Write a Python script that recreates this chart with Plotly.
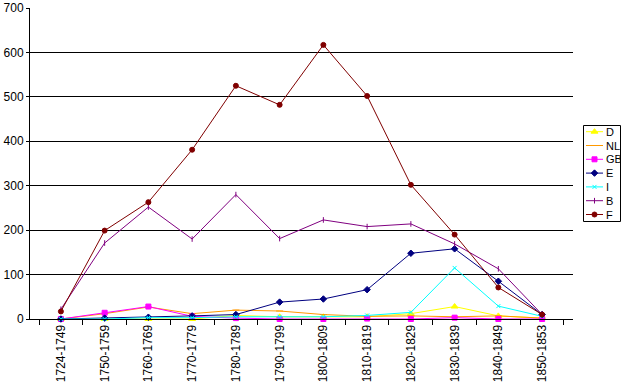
import plotly.graph_objects as go

periods = ["1724-1749", "1750-1759", "1760-1769", "1770-1779", "1780-1789", "1790-1799",
           "1800-1809", "1810-1819", "1820-1829", "1830-1839", "1840-1849", "1850-1853"]

D = [0, 0, 0, 0, 8, 5, 5, 5, 12, 28, 7, 2]
NL = [0, 12, 27, 12, 20, 18, 10, 6, 7, 5, 7, 2]
GB = [0, 14, 28, 6, 2, 0, 0, 1, 0, 3, 0, 0]
E = [0, 2, 4, 7, 10, 38, 45, 66, 148, 158, 85, 10]
I = [0, 0, 3, 3, 5, 5, 5, 8, 15, 115, 29, 6]
B = [22, 171, 252, 180, 280, 181, 223, 208, 214, 169, 113, 10]
F = [17, 199, 263, 381, 525, 482, 617, 502, 302, 190, 71, 10]

series = [
    ("D", D, "#FFFF00", "triangle-up", 6),
    ("NL", NL, "#FF9900", "line-ew", 5),
    ("GB", GB, "#FF00FF", "square", 5),
    ("E", E, "#000080", "diamond", 5),
    ("I", I, "#00FFFF", "x-thin", 4),
    ("B", B, "#800080", "line-ns", 4),
    ("F", F, "#800000", "circle", 5),
]

W, H = 621, 391
L, R, T, Bm = 30, 0, 8, 72
pw = W - L - R
main_right = 573
leg_x0, leg_x1 = 583, 621
leg_top, leg_bot = 125, 222
ph = H - T - Bm

fig = go.Figure()
for name, vals, col, sym, sz in series:
    fig.add_trace(go.Scatter(
        x=periods, y=vals, name=name, mode="lines+markers",
        line=dict(color=col, width=1),
        marker=dict(color=col, symbol=sym, size=sz, line=dict(color=col, width=1)),
        showlegend=False, cliponaxis=False,
    ))

# custom compact legend in its own small axes
for i, (name, vals, col, sym, sz) in enumerate(series):
    yy = 6.7 + 13.8 * i
    fig.add_trace(go.Scatter(
        x=[586, 603], y=[yy, yy], mode="lines", line=dict(color=col, width=1),
        xaxis="x2", yaxis="y2", showlegend=False, hoverinfo="skip", cliponaxis=False,
    ))
    fig.add_trace(go.Scatter(
        x=[594.5], y=[yy], mode="markers",
        marker=dict(color=col, symbol=sym, size=sz, line=dict(color=col, width=1)),
        xaxis="x2", yaxis="y2", showlegend=False, hoverinfo="skip", cliponaxis=False,
    ))
    fig.add_annotation(x=603.5, y=yy, xref="x2", yref="y2", text=name, showarrow=False,
                       xanchor="left", yanchor="middle", font=dict(size=11, color="black"))

fig.add_shape(type="rect", xref="x2", yref="y2", x0=leg_x0 + 0.5, x1=620.5,
              y0=0.5, y1=96.5, line=dict(color="black", width=1), layer="below")

fig.update_layout(
    width=W, height=H,
    margin=dict(l=L, r=R, t=T, b=Bm, autoexpand=False),
    paper_bgcolor="white", plot_bgcolor="white",
    font=dict(family="Liberation Sans, Arial, sans-serif", size=12, color="black"),
    showlegend=False,
    xaxis=dict(
        domain=[0, (main_right - L) / pw],
        type="category", showline=True, linecolor="black", linewidth=1,
        ticks="outside", ticklen=5, tickcolor="black", tickson="boundaries",
        tickangle=-90, showgrid=False, tickfont=dict(size=12), automargin=False,
    ),
    yaxis=dict(
        range=[0, 700], dtick=100, showline=True, linecolor="black", linewidth=1,
        ticks="outside", ticklen=3, tickcolor="black",
        showgrid=True, gridcolor="black", gridwidth=1, zeroline=False,
        tickfont=dict(size=12), automargin=False,
    ),
    xaxis2=dict(
        domain=[(leg_x0 - L) / pw, (leg_x1 - L) / pw], range=[leg_x0, leg_x1],
        visible=False, fixedrange=True,
    ),
    yaxis2=dict(
        domain=[(H - Bm - leg_bot) / ph, (H - Bm - leg_top) / ph], range=[97, 0],
        visible=False, fixedrange=True, anchor="x2",
    ),
)
fig.write_html("out.html", config={"displayModeBar": False},
               post_script="document.body.style.margin='0';document.body.style.overflow='hidden';")
